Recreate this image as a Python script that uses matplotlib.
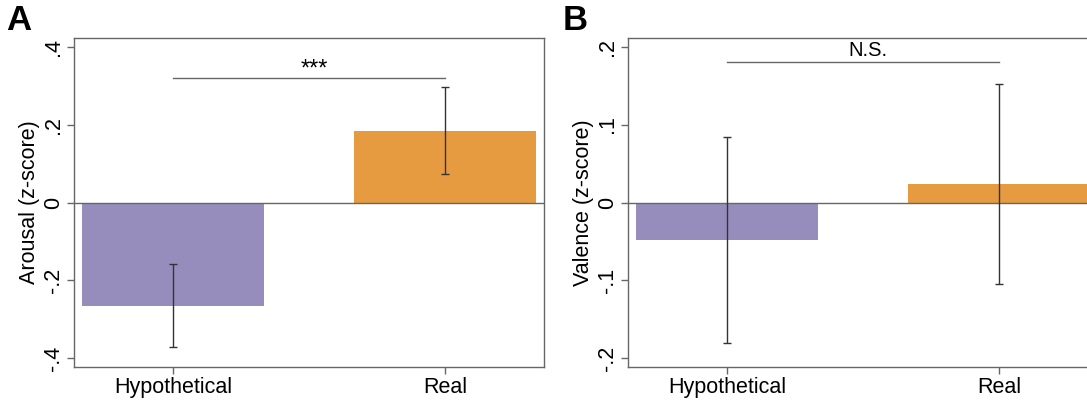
import matplotlib.pyplot as plt

plt.rcParams['font.family'] = ['Liberation Sans', 'DejaVu Sans']

# Group labels and means / error half-widths for the two outcomes
conditions = ['Hypothetical', 'Real']
arousal_mean = [-0.265, 0.185]
arousal_err = [0.107, 0.112]
valence_mean = [-0.048, 0.024]
valence_err = [0.132, 0.128]

bar_colors = ['#978dbc', '#e69b41']
spine_gray = '#666666'

fig = plt.figure(figsize=(10.87, 4.0), dpi=100)
W, H = 1087, 400


def panel(left_px, right_px, means, errs, ylim, ticks, ticklabels, ylabel,
          sig_text, sig_size, sig_y, sig_gap, letter, letter_x):
    ax = fig.add_axes([left_px / W, (H - 367) / H,
                       (right_px - left_px) / W, (367 - 38) / H])
    x = [1, 2]
    ax.bar(x, means, width=0.67, color=bar_colors, zorder=1)
    ax.errorbar(x, means, yerr=errs, fmt='none', ecolor='#333333',
                elinewidth=1.0, capsize=3, capthick=1.0, zorder=3)
    ax.axhline(0, color=spine_gray, lw=1.0, zorder=2)
    ax.set_xlim(0.635, 2.365)
    ax.set_ylim(*ylim)
    ax.set_xticks(x)
    ax.set_xticklabels(conditions, fontsize=15.5)
    ax.set_yticks(ticks)
    ax.set_yticklabels(ticklabels, fontsize=15.5, rotation=90, va='center')
    ax.set_ylabel(ylabel, fontsize=15.5, labelpad=2)
    ax.tick_params(direction='out', length=5, width=1, color=spine_gray, pad=2)
    for s in ax.spines.values():
        s.set_color(spine_gray)
        s.set_linewidth(1.0)
    # significance bracket between the two groups
    ax.plot([1, 2], [sig_y, sig_y], color=spine_gray, lw=1.0)
    ax.text(1.52, sig_y + sig_gap, sig_text,
            ha='center', va='baseline', fontsize=sig_size)
    fig.text(letter_x / W, 1 - 21 / H, letter, fontsize=25, fontweight='bold',
             ha='left', va='center')
    return ax


panel(74, 544, arousal_mean, arousal_err, (-0.423, 0.423),
      [-0.4, -0.2, 0, 0.2, 0.4], ['-.4', '-.2', '0', '.2', '.4'],
      'Arousal (z-score)', '***', 17, 0.32, 0.006, 'A', 6)

panel(628, 1098, valence_mean, valence_err, (-0.211, 0.211),
      [-0.2, -0.1, 0, 0.1, 0.2], ['-.2', '-.1', '0', '.1', '.2'],
      'Valence (z-score)', 'N.S.', 14.5, 0.18, 0.0075, 'B', 563)

fig.savefig('out.png', dpi=100)
